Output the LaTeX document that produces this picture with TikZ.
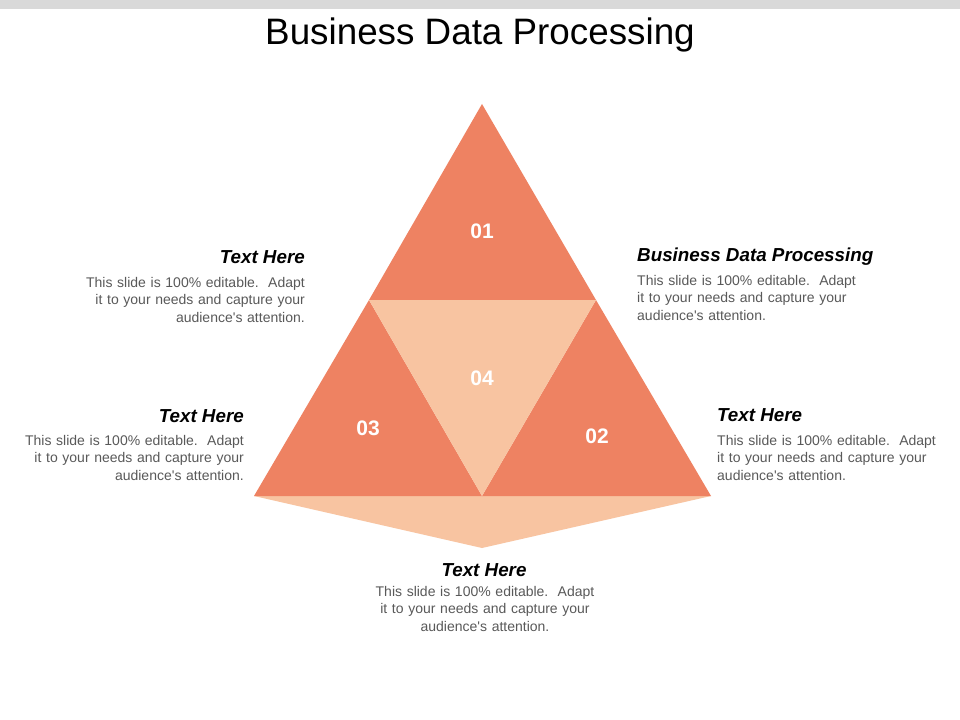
\documentclass[tikz,border=0pt]{standalone}
\usepackage{fontspec}
\setmainfont{Liberation Sans}
\definecolor{salmon}{HTML}{EE8262}
\definecolor{peach}{HTML}{F8C4A1}
\definecolor{bodygray}{HTML}{595959}
\definecolor{topbar}{HTML}{D9D9D9}
\newcommand{\bodytext}{This slide is 100\% editable.\ \ Adapt\\ it to your needs and capture your\\ audience\textquotesingle s attention.}
\tikzset{
  num/.style={text=white,font=\fontsize{21bp}{24bp}\selectfont\bfseries,inner sep=0pt},
  head/.style={text=black,font=\fontsize{18.8bp}{21bp}\selectfont\bfseries\itshape,inner sep=0pt},
  bodyr/.style={text=bodygray,font=\fontsize{14bp}{17.5bp}\selectfont,inner sep=0pt,text width=240bp,align=right},
  bodyl/.style={text=bodygray,font=\fontsize{14bp}{17.5bp}\selectfont,inner sep=0pt,text width=240bp,align=left},
  bodyc/.style={text=bodygray,font=\fontsize{14bp}{17.5bp}\selectfont,inner sep=0pt,text width=240bp,align=center},
}
\begin{document}
\begin{tikzpicture}[x=1bp,y=-1bp]
\useasboundingbox (0,0) rectangle (960,720);
\fill[white] (0,0) rectangle (960,720);
\fill[topbar] (0,0) rectangle (960,9);
\node[anchor=base,inner sep=0pt,font=\fontsize{36.8bp}{40bp}\selectfont] (title) at (480,45) {Business Data Processing};
% geometry
\coordinate (apex) at (482,104);
\coordinate (ml) at (369,300);
\coordinate (mr) at (596,300);
\coordinate (bl) at (254,496);
\coordinate (br) at (711,496);
\coordinate (bm) at (482,496);
\coordinate (tip) at (482,548);
\fill[peach] (bl) -- (br) -- (tip) -- cycle;
\fill[salmon] (apex) -- (mr) -- (ml) -- cycle;
\fill[salmon] (ml) -- (bm) -- (bl) -- cycle;
\fill[salmon] (mr) -- (br) -- (bm) -- cycle;
\fill[peach] (ml) -- (mr) -- (bm) -- cycle;
\node[num] (n01) at (482,231) {01};
\node[num] (n04) at (482,378) {04};
\node[num] (n03) at (368,428) {03};
\node[num] (n02) at (597,436) {02};
% texts
\node[head,anchor=base east] (h1) at (305,263) {Text Here};
\node[bodyr,anchor=base east] (b1) at (305,287) {\bodytext};
\node[head,anchor=base east] (h3) at (244,422) {Text Here};
\node[bodyr,anchor=base east] (b3) at (244,445) {\bodytext};
\node[head,anchor=base west] (h2) at (637,261) {Business Data Processing};
\node[bodyl,anchor=base west] (b2) at (637,285) {\bodytext};
\node[head,anchor=base west] (h4) at (717,421) {Text Here};
\node[bodyl,anchor=base west] (b4) at (717,445) {\bodytext};
\node[head,anchor=base] (h5) at (484,576) {Text Here};
\node[bodyc,anchor=base] (b5) at (485,596) {\bodytext};
\end{tikzpicture}
\end{document}
